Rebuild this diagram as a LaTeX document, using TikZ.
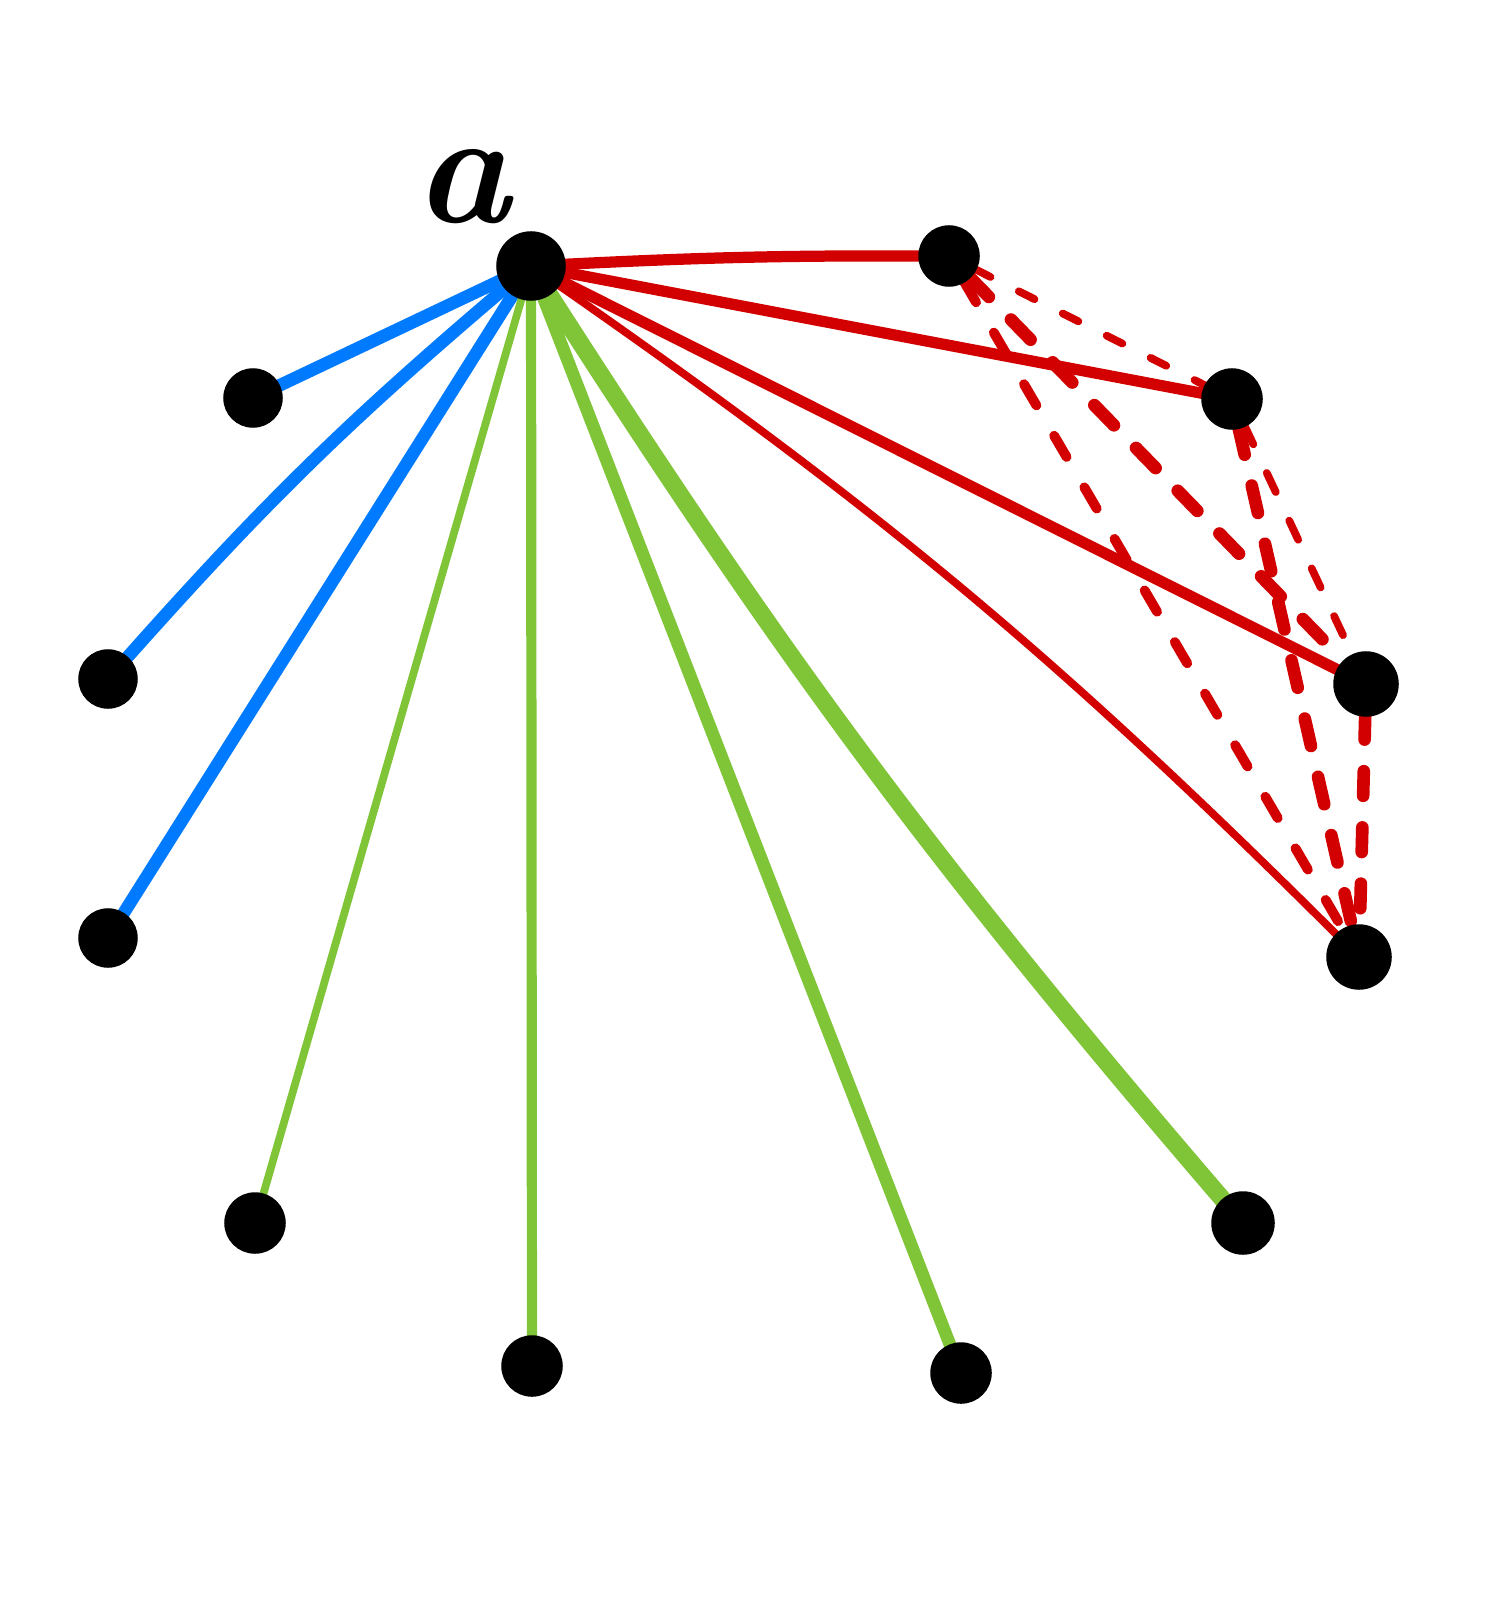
\documentclass[tikz,border=0pt]{standalone}
\usepackage{fontspec}
\usepackage{xcolor}
\usepackage{tikz-network}

\begin{document}
\begin{tikzpicture}
        \useasboundingbox (0,0) rectangle (14.87,-16.17);
        \Vertex[x=5.31, y=-2.66, size=0.66, label={\bfseries\itshape a}, position=106, distance=-0.02cm, fontsize={\fontsize{46}{46}\selectfont}, color=black]{a}
        \Vertex[x=9.49, y=-2.56, size=0.58, color=black]{r1}
        \Vertex[x=12.32, y=-3.99, size=0.58, color=black]{r2}
        \Vertex[x=13.66, y=-6.84, size=0.62, color=black]{r3}
        \Vertex[x=13.59, y=-9.57, size=0.62, color=black]{r4}
        \Vertex[x=2.53, y=-3.98, size=0.56, color=black]{b1}
        \Vertex[x=1.08, y=-6.79, size=0.56, color=black]{b2}
        \Vertex[x=1.08, y=-9.38, size=0.56, color=black]{b3}
        \Vertex[x=2.55, y=-12.23, size=0.58, color=black]{g1}
        \Vertex[x=5.32, y=-13.66, size=0.58, color=black]{g2}
        \Vertex[x=9.61, y=-13.73, size=0.58, color=black]{g3}
        \Vertex[x=12.43, y=-12.23, size=0.6, color=black]{g4}
        \Edge[lw=3.6pt, RGB, color={0,122,255}](a)(b1)
        \Edge[lw=3.6pt, RGB, color={0,122,255}, bend=-4](a)(b2)
        \Edge[lw=3.6pt, RGB, color={0,122,255}](a)(b3)
        \Edge[lw=2.2pt, RGB, color={128,196,56}](a)(g1)
        \Edge[lw=2.9pt, RGB, color={128,196,56}](a)(g2)
        \Edge[lw=3.6pt, RGB, color={128,196,56}](a)(g3)
        \Edge[lw=5pt, RGB, color={128,196,56}, bend=-4](a)(g4)
        \Edge[lw=3.2pt, RGB, color={210,0,0}, bend=1.5](a)(r1)
        \Edge[lw=3.2pt, RGB, color={210,0,0}](a)(r2)
        \Edge[lw=3.2pt, RGB, color={210,0,0}](a)(r3)
        \Edge[lw=2.2pt, RGB, color={210,0,0}, bend=5](a)(r4)
        \Edge[lw=2.2pt, RGB, color={210,0,0}, style={dash pattern=on 5pt off 9pt, line cap=round}](r1)(r2)
        \Edge[lw=3.6pt, RGB, color={210,0,0}, style={dash pattern=on 8pt off 9pt, line cap=round}](r1)(r3)
        \Edge[lw=2.8pt, RGB, color={210,0,0}, style={dash pattern=on 7pt off 10pt, line cap=round}](r1)(r4)
        \Edge[lw=2.2pt, RGB, color={210,0,0}, style={dash pattern=on 6pt off 9pt, line cap=round}](r2)(r3)
        \Edge[lw=3.6pt, RGB, color={210,0,0}, style={dash pattern=on 8pt off 9pt, line cap=round}](r2)(r4)
        \Edge[lw=3.6pt, RGB, color={210,0,0}, style={dash pattern=on 7pt off 9pt, line cap=round}](r3)(r4)
    \end{tikzpicture}
\end{document}
